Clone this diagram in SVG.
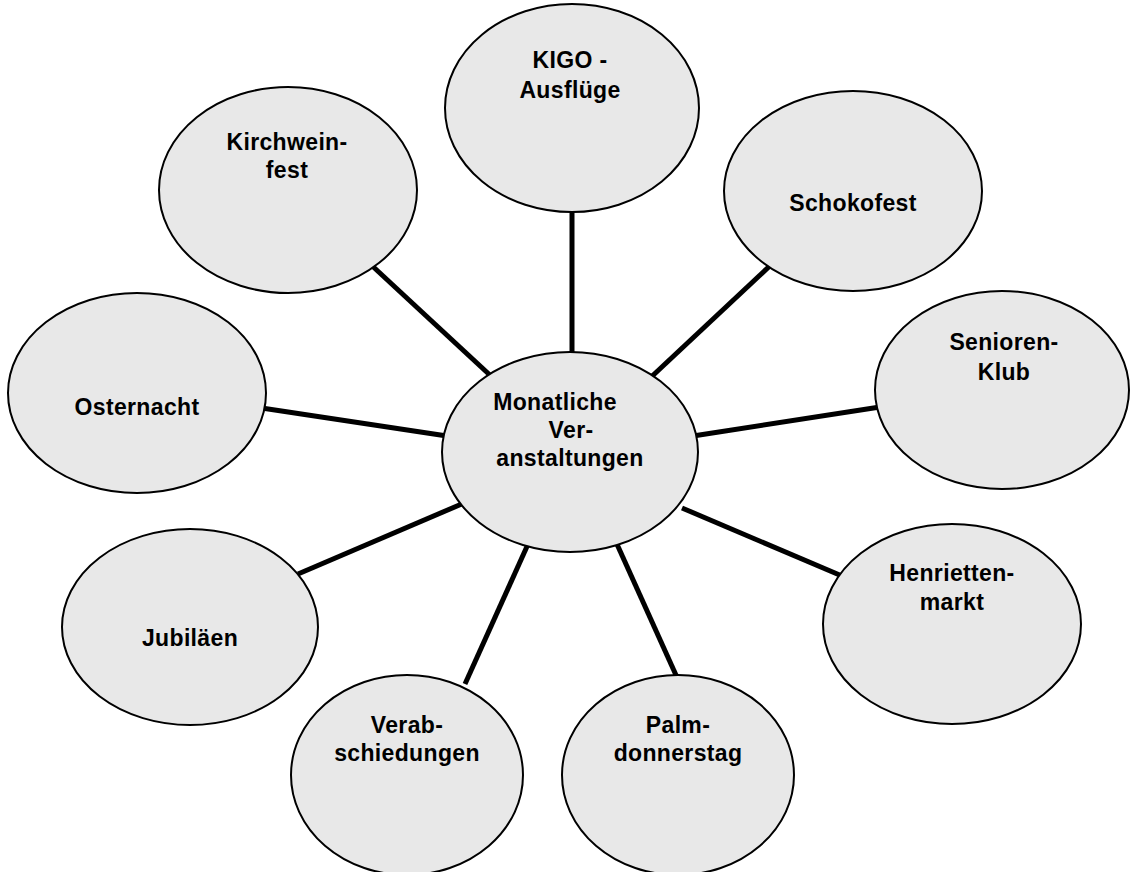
<svg xmlns="http://www.w3.org/2000/svg" width="1130" height="872" viewBox="0 0 1130 872">
<style>
.n{fill:#e8e8e8;stroke:#000;stroke-width:2}
.c{stroke:#000;stroke-width:5;fill:none}
text{font-family:"Liberation Sans",Arial,sans-serif;font-weight:bold;font-size:23px;letter-spacing:0.35px;fill:#000;text-anchor:middle;dominant-baseline:central}
</style>
<rect width="1130" height="872" fill="#fff"/>
<g id="connectors">
<line class="c" x1="572" y1="205" x2="572" y2="358"/>
<line class="c" x1="368" y1="262" x2="492" y2="377"/>
<line class="c" x1="774" y1="262" x2="648" y2="380"/>
<line class="c" x1="880" y1="407" x2="693" y2="436"/>
<line class="c" x1="255" y1="407" x2="447" y2="436"/>
<line class="c" x1="842" y1="576" x2="682" y2="508"/>
<line class="c" x1="298" y1="574" x2="464" y2="503"/>
<line class="c" x1="465" y1="684" x2="529" y2="542"/>
<line class="c" x1="680" y1="684" x2="616" y2="542"/>
</g>
<g id="center">
<ellipse class="n" cx="570" cy="452" rx="128" ry="100"/>
<text x="555" y="402">Monatliche</text>
<text x="571" y="430">Ver-</text>
<text x="570" y="458">anstaltungen</text>
</g>
<g id="kigo">
<ellipse class="n" cx="572" cy="108" rx="127" ry="104"/>
<text x="570" y="60">KIGO -</text>
<text x="570" y="90">Ausflüge</text>
</g>
<g id="kirchweinfest">
<ellipse class="n" cx="288" cy="190" rx="129" ry="103"/>
<text x="287" y="142">Kirchwein-</text>
<text x="287" y="170">fest</text>
</g>
<g id="schokofest">
<ellipse class="n" cx="853" cy="191" rx="129" ry="100"/>
<text x="853" y="203">Schokofest</text>
</g>
<g id="seniorenklub">
<ellipse class="n" cx="1002" cy="390" rx="127" ry="99"/>
<text x="1004" y="342">Senioren-</text>
<text x="1004" y="372">Klub</text>
</g>
<g id="osternacht">
<ellipse class="n" cx="137" cy="393" rx="129" ry="100"/>
<text x="137" y="407">Osternacht</text>
</g>
<g id="henriettenmarkt">
<ellipse class="n" cx="952" cy="624" rx="129" ry="100"/>
<text x="952" y="573">Henrietten-</text>
<text x="952" y="602">markt</text>
</g>
<g id="jubilaeen">
<ellipse class="n" cx="190" cy="627" rx="128" ry="98"/>
<text x="190" y="638">Jubiläen</text>
</g>
<g id="verabschiedungen">
<ellipse class="n" cx="407" cy="775" rx="116" ry="100"/>
<text x="407" y="725">Verab-</text>
<text x="407" y="753">schiedungen</text>
</g>
<g id="palmdonnerstag">
<ellipse class="n" cx="678" cy="775" rx="116" ry="100"/>
<text x="678" y="725">Palm-</text>
<text x="678" y="753">donnerstag</text>
</g>
</svg>
